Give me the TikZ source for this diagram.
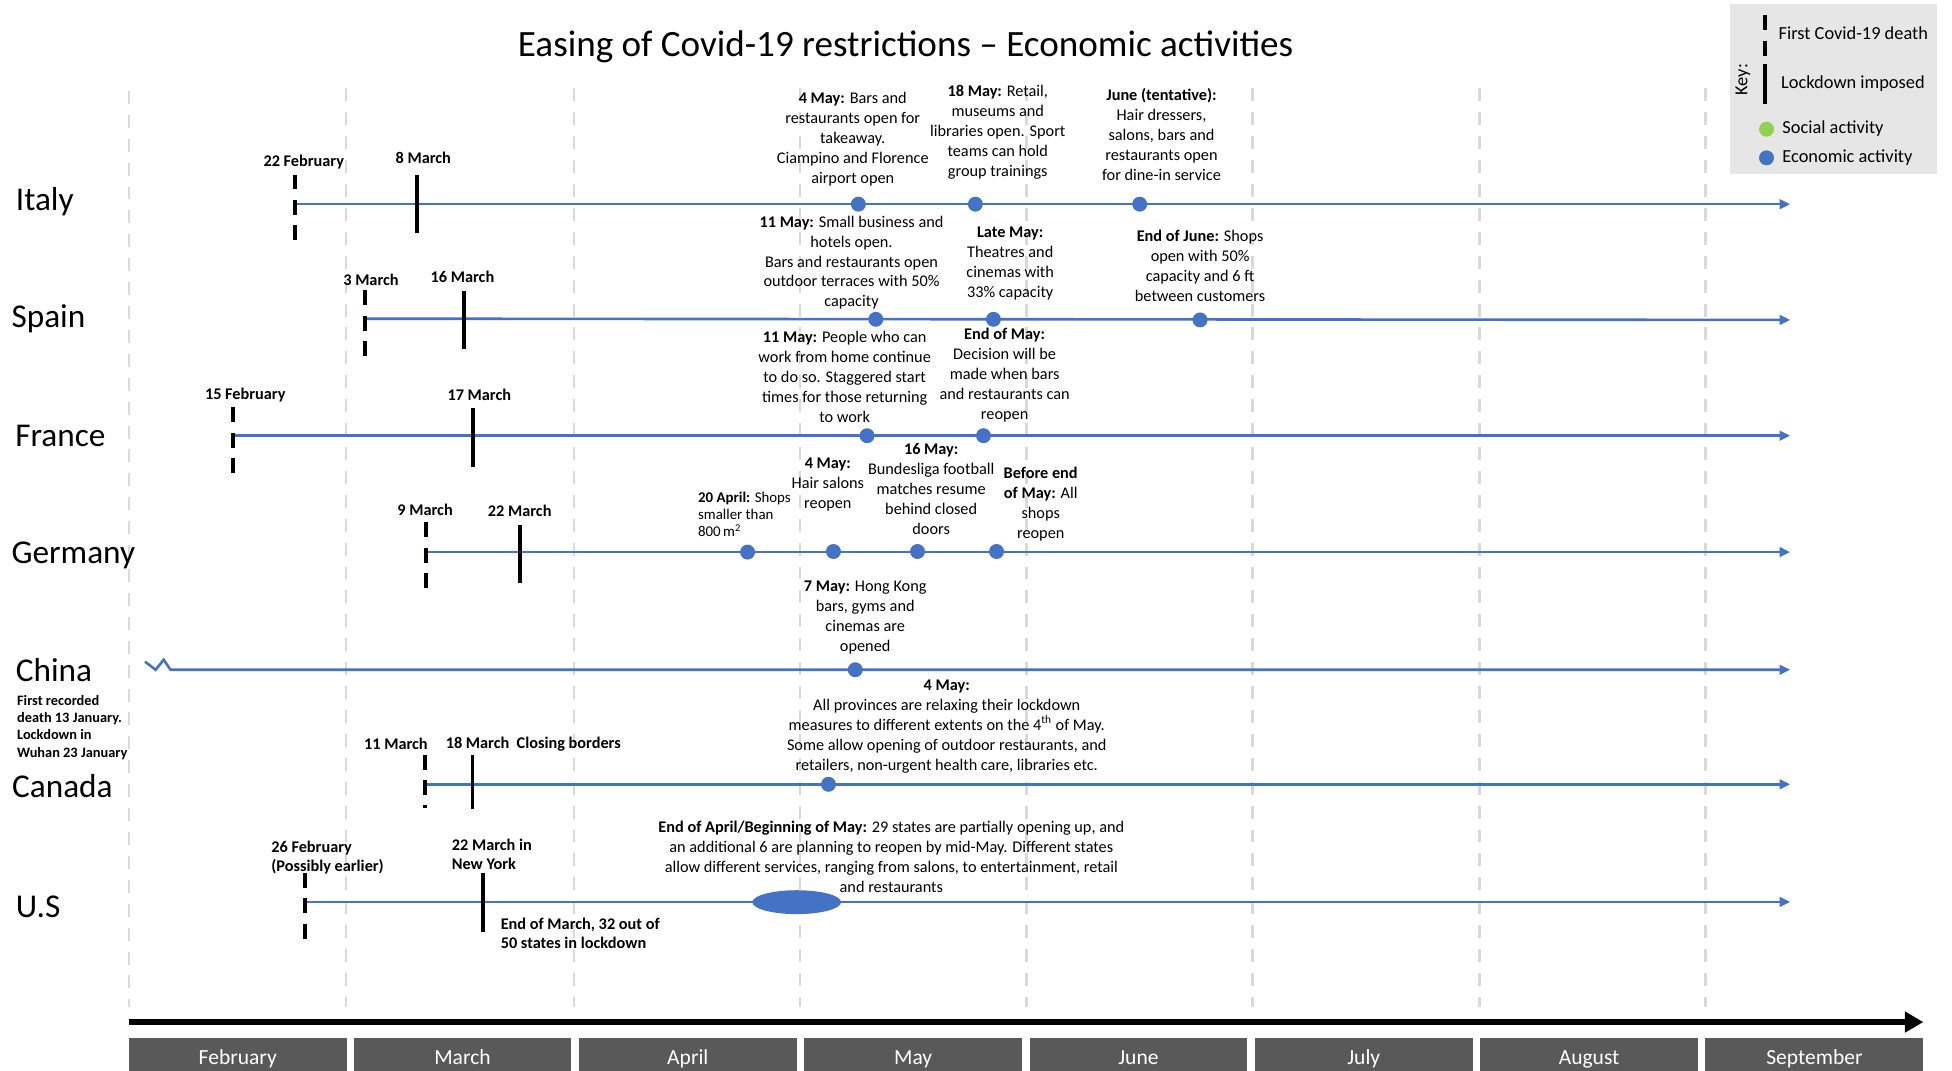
\documentclass[tikz,border=0pt]{standalone}
\usepackage{fontspec}
\setmainfont{Carlito}
\usepackage{tikz}
\usetikzlibrary{shapes,arrows,arrows.meta,backgrounds,positioning}

\definecolor{tlblue}{RGB}{68,114,196}
\definecolor{gridgray}{RGB}{217,217,217}
\definecolor{monthgray}{RGB}{89,89,89}
\definecolor{keygray}{RGB}{231,230,230}
\definecolor{socialgreen}{RGB}{146,208,80}

\begin{document}
\begin{tikzpicture}[x=0.025cm, y=-0.025cm]
		\tikzstyle{Grid}	= [gridgray, line width=1.4pt, dash pattern=on 0.26cm off 0.22cm]
		\tikzstyle{Timeline}	= [tlblue, line width=1.5pt, -{Triangle[length=0.21cm, width=0.19cm]}]
		\tikzstyle{Axis}	= [black, line width=3.9pt, -{Triangle[length=0.37cm, width=0.4cm]}]
		\tikzstyle{Death}	= [rectangle, inner sep=0pt, minimum width=0.075cm, minimum height=1.325cm, append after command={(\tikzlastnode.north) edge [black, line width=2.1pt, dash pattern=on 0.3cm off 0.21cm] (\tikzlastnode.south)}]
		\tikzstyle{Lockdown}	= [rectangle, inner sep=0pt, fill=black, minimum width=0.075cm, minimum height=1.175cm]
		\tikzstyle{Econ}	= [circle, fill=tlblue, inner sep=0pt, minimum size=0.3cm]
		\tikzstyle{Social}	= [circle, fill=socialgreen, inner sep=0pt, minimum size=0.3cm]
		\tikzstyle{Country}	= [anchor=base west, inner sep=0pt, font=\fontsize{19}{22}\selectfont]
		\tikzstyle{Date}	= [inner sep=0pt, font=\bfseries\fontsize{9.3}{11.4}\selectfont]
		\tikzstyle{Note}	= [inner sep=0pt, align=center, font=\fontsize{9.3}{11.4}\selectfont]
		\tikzstyle{NoteLeft}	= [inner sep=0pt, align=left, anchor=west, font=\bfseries\fontsize{9.3}{10.8}\selectfont]
		\tikzstyle{Month}	= [rectangle, fill=monthgray, text=white, minimum width=4.375cm, minimum height=0.675cm, inner sep=0pt, text height=11.3pt, text depth=0pt, font=\fontsize{12.3}{14}\selectfont]
		\tikzstyle{KeyText}	= [anchor=west, inner sep=0pt, font=\fontsize{10.5}{12}\selectfont]

		\useasboundingbox (0,0) rectangle (1568,860);

		% month grid
		\draw (103.5,73) -- (103.5,809) [Grid];
		\draw (278,71) -- (278,809) [Grid];
		\draw (461,71) -- (461,809) [Grid];
		\draw (642.5,71) -- (642.5,809) [Grid];
		\draw (824.5,71) -- (824.5,809) [Grid];
		\draw (1006,71) -- (1006,809) [Grid];
		\draw (1188.5,71) -- (1188.5,809) [Grid];
		\draw (1370,71) -- (1370,809) [Grid];

		\node (title) at (727.5,38) [font=\fontsize{21.2}{25}\selectfont] {Easing of Covid-19 restrictions -- Economic activities};

		% Italy
		\coordinate (itStart) at (237,164);
		\coordinate (itEnd) at (1438,164);
		\draw [Timeline] (itStart) to (itEnd);
		\node (it) at (12.5,169) [Country] {Italy};
		\node (itDeath) at (237,167) [Death] {};
		\node (itLock) at (335,164) [Lockdown] {};
		\node (itDeathDate) at (244,130) [Date] {22 February};
		\node (itLockDate) at (340,126.5) [Date] {8 March};
		\node (itMay4) at (689.5,164) [Econ] {};
		\node (itMay18) at (783.5,164) [Econ] {};
		\node (itJune) at (915.5,164) [Econ] {};
		\node (itMay4Note) at (685,111.5) [Note] {\textbf{4 May:} Bars and\\restaurants open for\\takeaway.\\Ciampino and Florence\\airport open};
		\node (itMay18Note) at (801.5,106) [Note] {\textbf{18 May:} Retail,\\museums and\\libraries open. Sport\\teams can hold\\group trainings};
		\node (itJuneNote) at (933,108) [Note] {\textbf{June (tentative):}\\Hair dressers,\\salons, bars and\\restaurants open\\for dine-in service};

		% Spain
		\coordinate (spStart) at (293,256);
		\coordinate (spEnd) at (1438,257);
		\draw [Timeline] (spStart) to (spEnd);
		\node (sp) at (9,263) [Country] {Spain};
		\node (spDeath) at (293,260) [Death] {};
		\node (spLock) at (372.5,257) [Lockdown] {};
		\node (spDeathDate) at (298,225) [Date] {3 March};
		\node (spLockDate) at (371.5,222.5) [Date] {16 March};
		\node (spMay11) at (703.5,256.5) [Econ] {};
		\node (spLateMay) at (798,256.5) [Econ] {};
		\node (spEndJune) at (964,257) [Econ] {};
		\node (spMay11Note) at (684,211) [Note] {\textbf{11 May:} Small business and\\hotels open.\\Bars and restaurants open\\outdoor terraces with 50\%\\capacity};
		\node (spLateMayNote) at (811.5,212) [Note] {\textbf{Late May:}\\Theatres and\\cinemas with\\33\% capacity};
		\node (spEndJuneNote) at (964,213.3) [Note] {\textbf{End of June:} Shops\\open with 50\%\\capacity and 6 ft\\between customers};

		% France
		\coordinate (frStart) at (187,350);
		\coordinate (frEnd) at (1438,350);
		\draw [Timeline] (frStart) to (frEnd);
		\node (fr) at (12,359) [Country] {France};
		\node (frDeath) at (187,354) [Death] {};
		\node (frLock) at (380,351.5) [Lockdown] {};
		\node (frDeathDate) at (197,317.5) [Date] {15 February};
		\node (frLockDate) at (385,317.5) [Date] {17 March};
		\node (frMay11) at (696.5,350) [Econ] {};
		\node (frEndMay) at (790,350) [Econ] {};
		\node (frMay11Note) at (678.5,302.5) [Note] {\textbf{11 May:} People who can\\work from home continue\\to do so. Staggered start\\times for those returning\\to work};
		\node (frEndMayNote) at (807,301.5) [Note] {\textbf{End of May:}\\Decision will be\\made when bars\\and restaurants can\\reopen};

		% Germany
		\coordinate (deStart) at (342,443.5);
		\coordinate (deEnd) at (1438,443.5);
		\draw [Timeline] (deStart) to (deEnd);
		\node (de) at (9,453) [Country] {Germany};
		\node (deDeath) at (342,446.5) [Death] {};
		\node (deLock) at (417.5,445) [Lockdown] {};
		\node (deDeathDate) at (341.5,409.5) [Date] {9 March};
		\node (deLockDate) at (417.5,410.5) [Date] {22 March};
		\node (deApr20) at (600.5,443.5) [Econ] {};
		\node (deMay4) at (669.5,443) [Econ] {};
		\node (deMay16) at (737,443) [Econ] {};
		\node (deEndMay) at (800.5,443) [Econ] {};
		\node (deApr20Note) at (560.5,413) [inner sep=0pt, align=left, anchor=west, font=\fontsize{8.5}{9.6}\selectfont] {\textbf{20 April:} Shops\\smaller than\\800\,m\textsuperscript{2}};
		\node (deMay4Note) at (665,389) [Note] {\textbf{4 May:}\\Hair salons\\reopen};
		\node (deMay16Note) at (748,393) [Note] {\textbf{16 May:}\\Bundesliga football\\matches resume\\behind closed\\doors};
		\node (deEndMayNote) at (836,405) [Note] {\textbf{Before end}\\\textbf{of May:} All\\shops\\reopen};

		% China
		\coordinate (cnStart) at (116.5,531.5);
		\coordinate (cnEnd) at (1438,538);
		\draw [Timeline] (cnStart) -- (125,538) -- (131.5,530) -- (137,538) -- (cnEnd);
		\node (cn) at (12.5,547.5) [Country] {China};
		\node (cnNote) at (13.5,584.3) [inner sep=0pt, align=left, anchor=west, font=\bfseries\fontsize{8.2}{9.8}\selectfont] {First recorded\\death 13 January.\\Lockdown in\\Wuhan 23 January};
		\node (cnMay7) at (687,538) [Econ] {};
		\node (cnMay7Note) at (695,496) [Note] {\textbf{7 May:} Hong Kong\\bars, gyms and\\cinemas are\\opened};

		% Canada
		\coordinate (caStart) at (341.5,630);
		\coordinate (caEnd) at (1438,630);
		\draw [Timeline] (caStart) to (caEnd);
		\node (ca) at (9.5,641) [Country] {Canada};
		\node (caDeath) at (341.5,627.5) [Death, minimum height=1.05cm] {};
		\node (caLock) at (379.5,628) [Lockdown, minimum height=1.08cm] {};
		\node (caDeathDate) at (318,597.5) [Date] {11 March};
		\node (caLockDate) at (357.8,597.5) [Date, anchor=west] {18 March~ Closing borders};
		\node (caMay4) at (665.5,630) [Econ] {};
		\node (caMay4Note) at (760.5,583.7) [Note] {\textbf{4 May:}\\All provinces are relaxing their lockdown\\measures to different extents on the 4\textsuperscript{th} of May.\\Some allow opening of outdoor restaurants, and\\retailers, non-urgent health care, libraries etc.};

		% U.S
		\coordinate (usStart) at (245,724.5);
		\coordinate (usEnd) at (1438,724.5);
		\draw [Timeline] (usStart) to (usEnd);
		\node (us) at (12.5,736.8) [Country] {U.S};
		\node (usDeath) at (245,728) [Death] {};
		\node (usLock) at (388,725) [Lockdown] {};
		\node (usDeathDate) at (217.7,689) [NoteLeft] {26 February\\(Possibly earlier)};
		\node (usLockDate) at (362.7,686) [NoteLeft] {22 March in\\New York};
		\node (usLockNote) at (402,750) [NoteLeft] {End of March, 32 out of\\50 states in lockdown};
		\node (usMay) at (640,724.7) [ellipse, fill=tlblue, inner sep=0pt, minimum width=1.78cm, minimum height=0.48cm] {};
		\node (usMayNote) at (716,688.6) [Note] {\textbf{End of April/Beginning of May:} 29 states are partially opening up, and\\an additional 6 are planning to reopen by mid-May. Different states\\allow different services, ranging from salons, to entertainment, retail\\and restaurants};

		% months
		\coordinate (axStart) at (103.5,821);
		\coordinate (axEnd) at (1545,821);
		\draw [Axis] (axStart) to (axEnd);
		\node (feb) at (191,847) [Month] {February};
		\node (mar) at (371.5,847) [Month] {March};
		\node (apr) at (552.5,847) [Month] {April};
		\node (may) at (733.5,847) [Month] {May};
		\node (jun) at (914.5,847) [Month] {June};
		\node (jul) at (1095.5,847) [Month] {July};
		\node (aug) at (1276.5,847) [Month] {August};
		\node (sep) at (1457.5,847) [Month] {September};

		% key
		\node (key) at (1473,71.5) [rectangle, fill=keygray, inner sep=0pt, minimum width=4.15cm, minimum height=3.425cm] {};
		\node (keyLabel) at (1400,64) [rotate=90, inner sep=0pt, font=\fontsize{10.5}{12}\selectfont] {Key:};
		\node (keyDeath) at (1418,28.5) [Death, minimum height=0.8cm] {};
		\node (keyLock) at (1418,67.7) [Lockdown, minimum height=0.8cm] {};
		\node (keyDeathText) at (1428.5,27) [KeyText] {First Covid-19 death};
		\node (keyLockText) at (1430.5,67) [KeyText] {Lockdown imposed};
		\node (keySocial) at (1419,103.8) [Social] {};
		\node (keySocialText) at (1431.5,103) [KeyText] {Social activity};
		\node (keyEcon) at (1419,126.8) [Econ] {};
		\node (keyEconText) at (1431.5,127) [KeyText] {Economic activity};
	\end{tikzpicture}
\end{document}
